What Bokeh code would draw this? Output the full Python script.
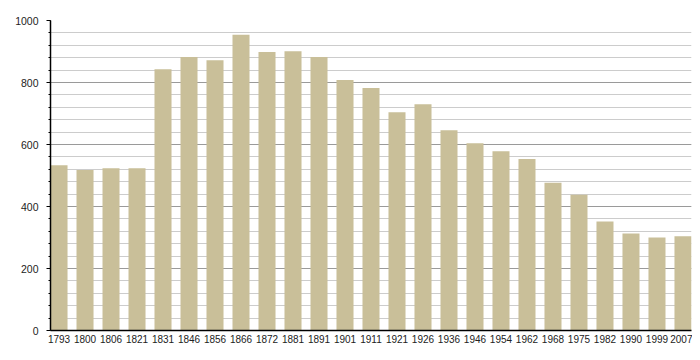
from bokeh.plotting import figure
from bokeh.models import Range1d, FixedTicker, SingleIntervalTicker, ColumnDataSource
from bokeh.embed import file_html
from bokeh.resources import INLINE

years = ["1793", "1800", "1806", "1821", "1831", "1846", "1856", "1866", "1872", "1881",
         "1891", "1901", "1911", "1921", "1926", "1936", "1946", "1954", "1962", "1968",
         "1975", "1982", "1990", "1999", "2007"]
population = [533, 518, 523, 523, 843, 882, 872, 954, 898, 901,
              882, 808, 782, 704, 730, 646, 604, 578, 553, 477,
              438, 352, 313, 300, 304]

idx = list(range(len(years)))
src = ColumnDataSource(dict(x=idx, top=population))

FONT = "Liberation Sans"

bw = 0.655
p = figure(width=692, height=356, output_backend="svg", toolbar_location=None,
           x_range=Range1d(-bw / 2, len(years) - 1 + bw / 2), y_range=Range1d(0, 1000),
           min_border_left=50, min_border_right=1, min_border_top=20, min_border_bottom=26)
p.outline_line_color = None
p.background_fill_color = "white"
p.border_fill_color = "white"

p.vbar(x="x", top="top", width=bw, bottom=0, source=src,
       fill_color="#c9bf99", line_color=None)

# x axis
p.xaxis.ticker = FixedTicker(ticks=idx)
p.xaxis.major_label_overrides = {i: y for i, y in enumerate(years)}
p.xaxis.major_tick_out = 0
p.xaxis.major_tick_in = 0
p.xaxis.minor_tick_out = 0
p.xaxis.minor_tick_in = 0
p.xaxis.major_label_standoff = 4
p.xaxis.axis_line_color = "black"
p.xaxis.axis_line_width = 1.5
p.xaxis.major_label_text_font = FONT
p.xaxis.major_label_text_font_size = "10px"
p.xaxis.major_label_text_color = "#222222"
p.xgrid.grid_line_color = None

# y axis
p.yaxis.ticker = SingleIntervalTicker(interval=200, num_minor_ticks=5)
p.yaxis.major_tick_out = 4
p.yaxis.major_tick_in = 0
p.yaxis.minor_tick_out = 2
p.yaxis.minor_tick_in = 0
p.yaxis.major_tick_line_color = "black"
p.yaxis.minor_tick_line_color = "black"
p.yaxis.axis_line_color = "black"
p.yaxis.axis_line_width = 1.5
p.yaxis.major_label_standoff = 8
p.yaxis.major_label_text_font = FONT
p.yaxis.major_label_text_font_size = "10.5px"
p.yaxis.major_label_text_color = "#222222"

p.ygrid.grid_line_color = "#9a9a9a"
p.ygrid.grid_line_width = 1
p.ygrid.minor_grid_line_color = "#cccccc"
p.ygrid.minor_grid_line_width = 1

open("out.html", "w").write(file_html(p, INLINE))
